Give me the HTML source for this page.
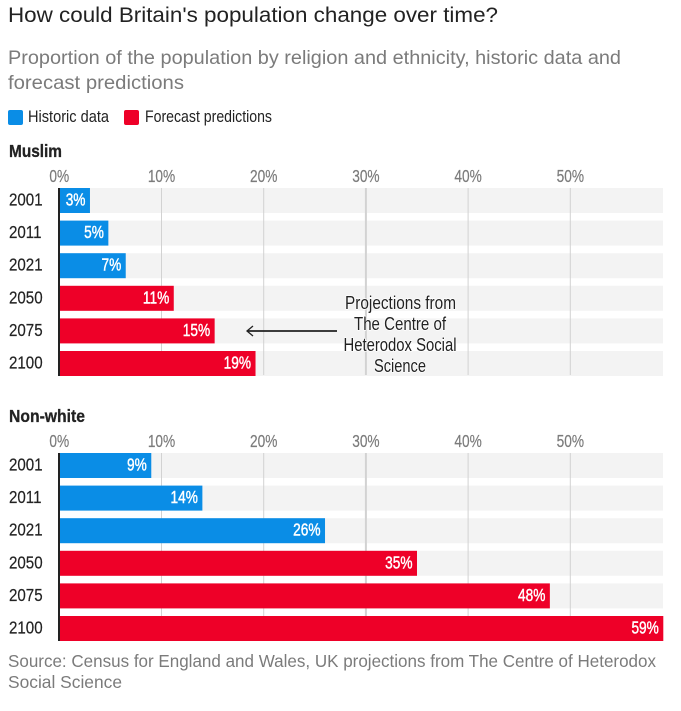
<!DOCTYPE html>
<html lang="en">
<head>
<meta charset="utf-8">
<title>How could Britain's population change over time?</title>
<style>
html,body{margin:0;padding:0;background:#fff;}
svg{display:block;font-family:"Liberation Sans",sans-serif;}
</style>
</head>
<body>
<svg id="chart" width="681" height="711" viewBox="0 0 681 711" xmlns="http://www.w3.org/2000/svg">
  <text x="8" y="22" font-size="21" fill="#222" textLength="490" lengthAdjust="spacingAndGlyphs">How could Britain's population change over time?</text>
  <text x="8" y="64" font-size="19.5" fill="#7b7b7b" textLength="613" lengthAdjust="spacingAndGlyphs">Proportion of the population by religion and ethnicity, historic data and</text>
  <text x="8" y="89" font-size="19.5" fill="#7b7b7b" textLength="176" lengthAdjust="spacingAndGlyphs">forecast predictions</text>
  <g>
    <rect x="8" y="110" width="15" height="15" rx="2" fill="#0a8de6"/>
    <text x="28" y="122" font-size="16.5" fill="#222" textLength="81" lengthAdjust="spacingAndGlyphs">Historic data</text>
    <rect x="124" y="110" width="15" height="15" rx="2" fill="#ee0028"/>
    <text x="145" y="122" font-size="16.5" fill="#222" textLength="127" lengthAdjust="spacingAndGlyphs">Forecast predictions</text>
  </g>
  <text x="9" y="157" font-size="17.5" font-weight="bold" fill="#222" stroke="#222" stroke-width="0.3" textLength="53" lengthAdjust="spacingAndGlyphs">Muslim</text>
  <text x="9" y="422" font-size="17.5" font-weight="bold" fill="#222" stroke="#222" stroke-width="0.3" textLength="76" lengthAdjust="spacingAndGlyphs">Non-white</text>
  <g id="panels"></g>
  <g>
    <line x1="337" y1="331" x2="247" y2="331" stroke="#222" stroke-width="1.8"/>
    <path d="M253 326 L247 331 L253 336" fill="none" stroke="#222" stroke-width="1.3"/>
    <g font-size="18" fill="#222" stroke="#fff" stroke-width="1.5" paint-order="stroke" stroke-linejoin="round">
      <text x="345" y="309" textLength="111" lengthAdjust="spacingAndGlyphs">Projections from</text>
      <text x="354" y="330" textLength="92" lengthAdjust="spacingAndGlyphs">The Centre of</text>
      <text x="343.5" y="351" textLength="113" lengthAdjust="spacingAndGlyphs">Heterodox Social</text>
      <text x="374" y="372" textLength="52" lengthAdjust="spacingAndGlyphs">Science</text>
    </g>
  </g>
  <text x="8" y="667" font-size="17.5" fill="#7b7b7b" textLength="648" lengthAdjust="spacingAndGlyphs">Source: Census for England and Wales, UK projections from The Centre of Heterodox</text>
  <text x="8" y="688" font-size="17.5" fill="#7b7b7b" textLength="114" lengthAdjust="spacingAndGlyphs">Social Science</text>
</svg>
<script>
const years = ["2001", "2011", "2021", "2050", "2075", "2100"];
const muslimValues = [3.0, 4.8, 6.5, 11.2, 15.2, 19.2];
const nonWhiteValues = [9.0, 14.0, 26.0, 35.0, 48.0, 59.1];
const seriesKinds = ["historic", "historic", "historic", "forecast", "forecast", "forecast"];
const tickValues = [0, 10, 20, 30, 40, 50];

const NS = "http://www.w3.org/2000/svg";
const root = document.getElementById("panels");
const kindColor = { historic: "#0a8de6", forecast: "#ee0028" };

function xScale(v) { return 59.3 + v * 10.22; }
function yRow(i, top) { return top + i * 32.6; }

function make(tag, attrs, parent) {
  const el = document.createElementNS(NS, tag);
  for (const k in attrs) el.setAttribute(k, attrs[k]);
  parent.appendChild(el);
  return el;
}

function narrowText(str, x, y, size, fill, anchor, sx, weight, parent) {
  const t = make("text", {
    transform: "translate(" + x + "," + y + ") scale(" + sx + ",1)",
    "font-size": size, fill: fill, "text-anchor": anchor,
    stroke: fill, "stroke-width": weight
  }, parent);
  t.textContent = str;
  return t;
}

function drawPanel(values, top, slug) {
  const g = make("g", {}, root);
  
  
  const rowH = 25;
  const right = 663;

  years.forEach(function (year, i) {
    const bg = make("rect", { x: 59, y: yRow(i, top), width: right - 59, height: rowH, fill: "#f3f3f3" }, g);
    
    
  });

  tickValues.forEach(function (v) {
    const x = xScale(v);
    if (v > 0) {
      const line = make("line", {
        x1: x, x2: x, y1: top, y2: yRow(5, top) + rowH - 1,
        stroke: "#d2d2d2", "stroke-width": v === 30 ? 2 : 1
      }, g);
      
      
    }
    const lab = narrowText(v + "%", x, top - 6, 18, "#7b7b7b", "middle", 0.76, 0.2, g);
    
    
  });

  values.forEach(function (val, i) {
    const y = yRow(i, top);
    const w = xScale(val) - 59;
    const bar = make("rect", { x: 59, y: y, width: w, height: rowH, fill: kindColor[seriesKinds[i]] }, g);
    
    

    const yl = narrowText(years[i], 9, y + 17.5, 18, "#222", "start", 0.84, 0.2, g);
    
    

    const vl = narrowText(Math.round(val) + "%", xScale(val) - 4.5, y + 17.5, 18, "#fff", "end", 0.76, 0.45, g);
    
    
  });

  const axis = make("line", {
    x1: 59, x2: 59, y1: top, y2: yRow(5, top) + rowH, stroke: "#222", "stroke-width": 2
  }, g);
  
  
}

drawPanel(muslimValues, 188, "muslim");
drawPanel(nonWhiteValues, 453, "non-white");
</script>
</body>
</html>
